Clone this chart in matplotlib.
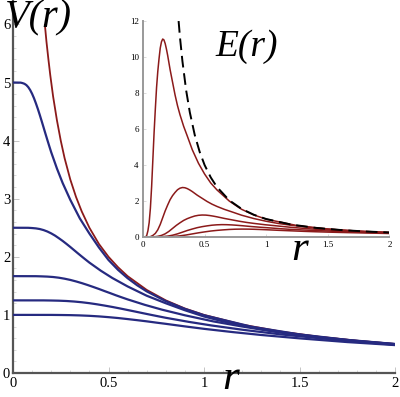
import matplotlib
matplotlib.use("Agg")
import matplotlib.pyplot as plt
from matplotlib.ticker import MultipleLocator

plt.rcParams['font.family'] = ['Liberation Serif', 'DejaVu Serif']

# ---- potential V(r), main plot ----
r_v1 = [0, 0.04, 0.05, 0.06, 0.07, 0.08, 0.09, 0.10, 0.11, 0.12, 0.13, 0.14, 0.15, 0.16, 0.17, 0.18, 0.19, 0.20,
        0.23, 0.26, 0.30, 0.35, 0.40, 0.45, 0.50, 0.55, 0.60, 0.65, 0.70, 0.80, 0.90, 1.00, 1.25, 1.50, 1.75, 2.00]
v1 = [5.0, 4.998, 4.99, 4.978, 4.956, 4.92, 4.87, 4.806, 4.729, 4.641, 4.546, 4.444, 4.337, 4.228, 4.118, 4.01, 3.904, 3.80,
      3.52, 3.27, 2.98, 2.66, 2.40, 2.16, 1.945, 1.775, 1.632, 1.51, 1.405, 1.236, 1.103, 0.994, 0.796, 0.664, 0.570, 0.499]

r_v2 = [0, 0.08, 0.10, 0.12, 0.14, 0.16, 0.18, 0.20, 0.22, 0.24, 0.26, 0.28, 0.30, 0.32, 0.34, 0.36, 0.38, 0.40,
        0.46, 0.52, 0.60, 0.70, 0.80, 0.90, 1.00, 1.10, 1.20, 1.30, 1.40, 1.60, 1.80, 2.00]
v2 = [2.5, 2.499, 2.495, 2.489, 2.478, 2.46, 2.435, 2.403, 2.365, 2.32, 2.273, 2.222, 2.169, 2.114, 2.059, 2.005, 1.952, 1.90,
      1.76, 1.635, 1.49, 1.33, 1.20, 1.08, 0.9725, 0.8875, 0.816, 0.755, 0.7025, 0.618, 0.5515, 0.497]

r_v3 = [0, 0.12, 0.15, 0.18, 0.21, 0.24, 0.27, 0.30, 0.33, 0.36, 0.39, 0.42, 0.45, 0.48, 0.51, 0.54, 0.57, 0.60,
        0.69, 0.78, 0.90, 1.05, 1.20, 1.35, 1.50, 1.65, 1.80, 1.95, 2.00]
v3 = [1.667, 1.666, 1.663, 1.659, 1.652, 1.64, 1.623, 1.602, 1.576, 1.547, 1.515, 1.481, 1.446, 1.409, 1.373, 1.336, 1.301, 1.267,
      1.173, 1.09, 0.993, 0.887, 0.80, 0.72, 0.648, 0.592, 0.544, 0.503, 0.492]

r_v4 = [0, 0.16, 0.20, 0.24, 0.28, 0.32, 0.36, 0.40, 0.44, 0.48, 0.52, 0.56, 0.60, 0.64, 0.68, 0.72, 0.76, 0.80,
        0.92, 1.04, 1.20, 1.40, 1.60, 1.80, 2.00]
v4 = [1.25, 1.2495, 1.2475, 1.2445, 1.239, 1.23, 1.2175, 1.2015, 1.182, 1.160, 1.1365, 1.111, 1.084, 1.057, 1.0295, 1.0025, 0.976, 0.95,
      0.88, 0.8175, 0.745, 0.665, 0.60, 0.54, 0.486]

r_v5 = [0, 0.20, 0.25, 0.30, 0.35, 0.40, 0.45, 0.50, 0.55, 0.60, 0.65, 0.70, 0.75, 0.80, 0.85, 0.90, 0.95, 1.00,
        1.15, 1.30, 1.50, 1.75, 2.00]
v5 = [1.0, 0.9996, 0.998, 0.9956, 0.991, 0.984, 0.974, 0.961, 0.946, 0.928, 0.909, 0.889, 0.867, 0.846, 0.824, 0.802, 0.781, 0.76,
      0.704, 0.654, 0.596, 0.532, 0.48]

# point charge 1/r
r_pt = [0.167, 0.175, 0.185, 0.195, 0.21, 0.23, 0.25, 0.27, 0.30, 0.33, 0.36, 0.40, 0.45, 0.50, 0.55, 0.60,
        0.70, 0.80, 0.90, 1.00, 1.20, 1.40, 1.60, 1.80, 2.00]
v_pt = [5.99, 5.71, 5.41, 5.13, 4.76, 4.35, 4.0, 3.70, 3.33, 3.03, 2.78, 2.5, 2.22, 2.0, 1.82, 1.667,
        1.43, 1.25, 1.11, 1.0, 0.833, 0.714, 0.625, 0.556, 0.5]

# ---- field E(r), inset ----
r_e1 = [0, 0.02, 0.03, 0.04, 0.05, 0.06, 0.07, 0.08, 0.09, 0.10, 0.11, 0.12, 0.13, 0.14, 0.15, 0.16, 0.17, 0.18, 0.19, 0.20,
        0.22, 0.24, 0.26, 0.28, 0.30, 0.33, 0.36, 0.40, 0.45, 0.50, 0.55, 0.60, 0.70, 0.80, 0.90, 1.0, 1.25, 1.5, 1.75, 2.0]
e1 = [0, 0.0, 0.08, 0.35, 0.8, 1.6, 2.8, 4.3, 5.8, 7.1, 8.3, 9.2, 9.9, 10.5, 10.85, 11.0, 10.95, 10.75, 10.45, 10.1,
      9.3, 8.6, 7.9, 7.3, 6.8, 6.15, 5.6, 4.85, 4.1, 3.5, 3.0, 2.62, 2.0, 1.54, 1.225, 0.99, 0.636, 0.443, 0.326, 0.25]

r_e2 = [0, 0.04, 0.06, 0.08, 0.10, 0.12, 0.14, 0.16, 0.18, 0.20, 0.22, 0.24, 0.26, 0.28, 0.30, 0.32, 0.34, 0.36, 0.38, 0.40,
        0.44, 0.48, 0.52, 0.56, 0.60, 0.66, 0.72, 0.80, 0.90, 1.0, 1.1, 1.2, 1.4, 1.6, 1.8, 2.0]
e2 = [0, 0.0, 0.02, 0.0875, 0.2, 0.4, 0.7, 1.075, 1.45, 1.775, 2.075, 2.3, 2.475, 2.625, 2.7125, 2.75, 2.7375, 2.6875, 2.6125, 2.525,
      2.325, 2.15, 1.975, 1.825, 1.7, 1.5375, 1.4, 1.2125, 1.025, 0.875, 0.75, 0.655, 0.5, 0.385, 0.306, 0.2475]

r_e3 = [0, 0.06, 0.09, 0.12, 0.15, 0.18, 0.21, 0.24, 0.27, 0.30, 0.33, 0.36, 0.39, 0.42, 0.45, 0.48, 0.51, 0.54, 0.57, 0.60,
        0.66, 0.72, 0.78, 0.84, 0.90, 0.99, 1.08, 1.20, 1.35, 1.5, 1.65, 1.8, 2.0]
e3 = [0, 0.0, 0.009, 0.039, 0.089, 0.178, 0.311, 0.478, 0.644, 0.789, 0.922, 1.022, 1.1, 1.167, 1.206, 1.222, 1.217, 1.194, 1.161, 1.122,
      1.033, 0.956, 0.878, 0.811, 0.756, 0.683, 0.622, 0.539, 0.456, 0.389, 0.333, 0.291, 0.244]

r_e4 = [0, 0.08, 0.12, 0.16, 0.20, 0.24, 0.28, 0.32, 0.36, 0.40, 0.44, 0.48, 0.52, 0.56, 0.60, 0.64, 0.68, 0.72, 0.76, 0.80,
        0.88, 0.96, 1.04, 1.12, 1.2, 1.32, 1.44, 1.6, 1.8, 2.0]
e4 = [0, 0.0, 0.005, 0.022, 0.05, 0.1, 0.175, 0.269, 0.363, 0.444, 0.519, 0.575, 0.619, 0.656, 0.678, 0.6875, 0.684, 0.672, 0.653, 0.631,
      0.581, 0.538, 0.5, 0.459, 0.425, 0.384, 0.35, 0.303, 0.256, 0.219]

r_e5 = [0, 0.10, 0.15, 0.20, 0.25, 0.30, 0.35, 0.40, 0.45, 0.50, 0.55, 0.60, 0.65, 0.70, 0.75, 0.80, 0.85, 0.90, 0.95, 1.00,
        1.1, 1.2, 1.3, 1.4, 1.5, 1.65, 1.8, 2.0]
e5 = [0, 0.0, 0.003, 0.014, 0.032, 0.064, 0.112, 0.172, 0.232, 0.284, 0.332, 0.368, 0.396, 0.42, 0.434, 0.44, 0.438, 0.43, 0.418, 0.404,
      0.372, 0.344, 0.316, 0.292, 0.272, 0.246, 0.224, 0.194]

# point charge 1/r^2
r_ept = [0.289, 0.30, 0.32, 0.35, 0.38, 0.42, 0.46, 0.50, 0.55, 0.60, 0.70, 0.80, 0.90, 1.0, 1.2, 1.4, 1.6, 1.8, 2.0]
e_pt = [12.0, 11.1, 9.77, 8.16, 6.93, 5.67, 4.73, 4.0, 3.31, 2.78, 2.04, 1.5625, 1.235, 1.0, 0.694, 0.510, 0.391, 0.309, 0.25]

x_ticks = [0, 0.5, 1, 1.5, 2]
x_labels = ['0', '0.5', '1', '1.5', '2']

blue = '#262a80'
red = '#8b1a1a'

fig = plt.figure(figsize=(4, 3.97), dpi=100)

# main axes
ax = fig.add_axes([0.0325, 0.0605, 0.955, 0.9365])
ax.plot(r_pt, v_pt, color=red, lw=1.3, zorder=2)
for rr, vv in [(r_v1, v1), (r_v2, v2), (r_v3, v3), (r_v4, v4), (r_v5, v5)]:
    ax.plot(rr, vv, color=blue, lw=1.6, zorder=3)
ax.set_xlim(0, 2)
ax.set_ylim(0, 6.4)
ax.set_xticks(x_ticks)
ax.set_xticklabels(x_labels)
ax.set_yticks([0, 1, 2, 3, 4, 5, 6])
ax.xaxis.set_minor_locator(MultipleLocator(0.1))
ax.yaxis.set_minor_locator(MultipleLocator(0.2))
ax.tick_params(which='major', direction='in', length=4, width=0.6, color='#bbbbbb',
               labelsize=10.5, pad=3)
ax.tick_params(which='minor', direction='in', length=2, width=0.5, color='#cccccc')
ax.tick_params(axis='y', pad=2)
for s in ['top', 'right']:
    ax.spines[s].set_visible(False)
for s in ['left', 'bottom']:
    ax.spines[s].set_color('#555555')
    ax.spines[s].set_linewidth(1.6)

# inset
ins = fig.add_axes([0.3575, 0.403, 0.616, 0.544])
ins.set_facecolor('white')
for rr, ee in [(r_e1, e1), (r_e2, e2), (r_e3, e3), (r_e4, e4), (r_e5, e5)]:
    ins.plot(rr, ee, color=red, lw=1.1, zorder=2)
ins.plot(r_ept, e_pt, color='black', lw=1.4, ls=(0, (6, 3)), zorder=3)
ins.set_xlim(0, 2)
ins.set_ylim(0, 12)
ins.set_xticks(x_ticks)
ins.set_xticklabels(x_labels)
ins.set_yticks([0, 2, 4, 6, 8, 10, 12])
ins.tick_params(direction='in', length=2, width=0.5, color='#cccccc', labelsize=6.5, pad=3)
for s in ['top', 'right']:
    ins.spines[s].set_visible(False)
for s in ['left', 'bottom']:
    ins.spines[s].set_color('#999999')
    ins.spines[s].set_linewidth(1.4)

# labels, big italic serif
lab = dict(family='Liberation Serif', style='italic', ha='center', va='center')
fig.text(0.095, 0.955, 'V(r)', fontsize=29, **lab)
fig.text(0.617, 0.882, 'E(r)', fontsize=27, **lab)
fig.text(0.577, 0.045, 'r', fontsize=31, **lab)
fig.text(0.75, 0.37, 'r', fontsize=31, **lab)

fig.savefig('out.png', dpi=100)
